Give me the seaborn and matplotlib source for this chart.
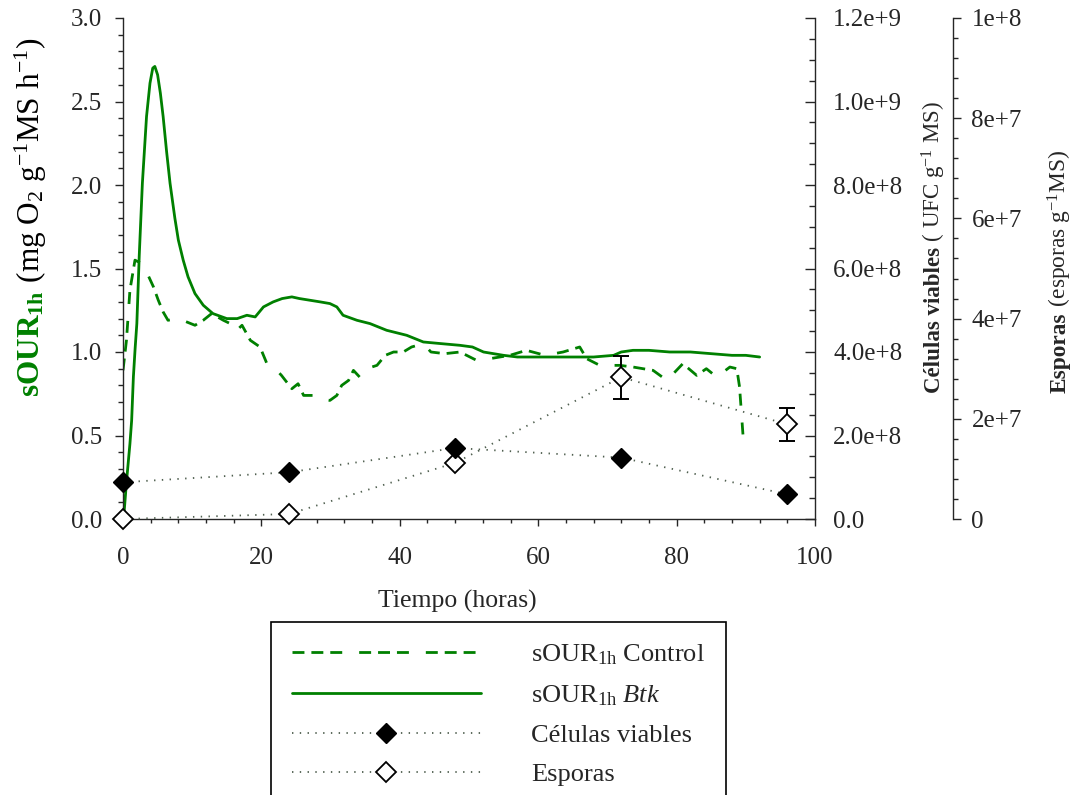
import numpy as np
import pandas as pd
import matplotlib
matplotlib.use("Agg")
import matplotlib.pyplot as plt
import seaborn as sns
from matplotlib.ticker import MultipleLocator
from matplotlib.lines import Line2D

# ---------------- data ----------------
btk_hours = [0.0, 0.14, 0.5, 1.0, 1.25, 1.5, 1.75, 2.0, 2.35, 2.8, 3.4, 3.9, 4.3, 4.6,
             5.0, 5.4, 5.8, 6.3, 6.8, 7.5, 8.0, 8.7, 9.4, 10.4, 11.6, 13.0, 15.0, 16.5,
             17.9, 19.1, 20.3, 21.7, 23.0, 24.4, 25.5, 27.0, 28.5, 29.9, 30.9, 31.8,
             33.8, 35.7, 38.1, 41.0, 43.4, 46.0, 48.7, 50.5, 52.1, 55.0, 57.0, 59.3,
             62.0, 65.0, 68.0, 70.9, 72.0, 73.7, 76.0, 79.0, 82.0, 85.0, 88.0, 90.0, 92.0]
btk_sour = [0.02, 0.03, 0.22, 0.45, 0.59, 0.85, 1.02, 1.17, 1.58, 2.01, 2.41, 2.61, 2.70, 2.71,
            2.66, 2.55, 2.41, 2.20, 2.01, 1.80, 1.67, 1.55, 1.45, 1.35, 1.28, 1.23, 1.20, 1.20,
            1.22, 1.21, 1.27, 1.30, 1.32, 1.33, 1.32, 1.31, 1.30, 1.29, 1.27, 1.22,
            1.19, 1.17, 1.13, 1.10, 1.06, 1.05, 1.04, 1.03, 1.00, 0.98, 0.97, 0.97,
            0.97, 0.97, 0.97, 0.98, 1.00, 1.01, 1.01, 1.00, 1.00, 0.99, 0.98, 0.98, 0.97]

ctrl_hours = [0.0, 0.5, 1.0, 1.73, 2.7, 3.4, 4.4, 5.1, 5.8, 6.5, 8.0, 9.2, 10.4, 11.6, 12.8,
              14.5, 15.5, 16.2, 17.2, 18.4, 19.8, 20.8, 22.0, 22.9, 24.4, 25.3, 26.1, 27.5,
              28.5, 29.9, 30.9, 31.6, 32.6, 33.3, 34.2, 35.2, 36.7, 37.9, 39.1, 40.5, 41.7,
              43.4, 44.5, 46.5, 48.7, 51.1, 53.0, 55.9, 58.3, 61.0, 63.6, 66.0, 67.0, 68.9,
              71.8, 73.7, 76.6, 78.6, 80.9, 82.9, 84.3, 85.8, 87.7, 88.7, 89.1, 89.6]
ctrl_sour = [0.89, 1.07, 1.37, 1.55, 1.53, 1.48, 1.39, 1.31, 1.24, 1.19, 1.20, 1.18, 1.16, 1.19, 1.23,
             1.19, 1.17, 1.12, 1.16, 1.07, 1.03, 0.93, 0.90, 0.86, 0.78, 0.81, 0.74, 0.74,
             0.72, 0.71, 0.74, 0.80, 0.83, 0.89, 0.85, 0.90, 0.92, 0.98, 1.00, 1.00, 1.03,
             1.05, 1.00, 0.99, 1.00, 0.95, 0.96, 0.98, 1.01, 0.98, 1.00, 1.03, 0.96, 0.92,
             0.92, 0.91, 0.89, 0.83, 0.93, 0.86, 0.90, 0.85, 0.91, 0.90, 0.79, 0.50]

sample_hours = [0, 24, 48, 72, 96]
celulas = [8.8e7, 1.12e8, 1.70e8, 1.47e8, 5.9e7]
esporas = [0.0, 1.0e6, 1.12e7, 2.83e7, 1.89e7]
esporas_err = [0.0, 0.0, 0.0, 4.3e6, 3.3e6]

x_ticks = [0, 20, 40, 60, 80, 100]
sour_ticks = [0.0, 0.5, 1.0, 1.5, 2.0, 2.5, 3.0]
sour_labels = ["0.0", "0.5", "1.0", "1.5", "2.0", "2.5", "3.0"]
cel_ticks = [0, 2e8, 4e8, 6e8, 8e8, 1.0e9, 1.2e9]
cel_labels = ["0.0", "2.0e+8", "4.0e+8", "6.0e+8", "8.0e+8", "1.0e+9", "1.2e+9"]
esp_ticks = [0, 2e7, 4e7, 6e7, 8e7, 1e8]
esp_labels = ["0", "2e+7", "4e+7", "6e+7", "8e+7", "1e+8"]

legend_labels = [r"sOUR$_{\mathrm{1h}}$ Control", r"sOUR$_{\mathrm{1h}}$ $\mathit{Btk}$",
                 "Células viables", "Esporas"]

# ---------------- style ----------------
sns.set_style("ticks")
plt.rcParams["font.family"] = ["Liberation Serif", "DejaVu Serif"]
plt.rcParams["mathtext.fontset"] = "custom"
plt.rcParams["mathtext.rm"] = "Liberation Serif"
plt.rcParams["mathtext.it"] = "Liberation Serif:italic"
plt.rcParams["mathtext.bf"] = "Liberation Serif:bold"
plt.rcParams["lines.scale_dashes"] = False
plt.rcParams["axes.linewidth"] = 1.0

FS = 18
GREEN = "#008000"
DOT = "#4f5f4f"
DASH = (0, (8.6, 5.0, 8.6, 5.0, 8.6, 12.2))
DOTTED = (0, (1.0, 4.6))

W, H = 1074, 795
fig = plt.figure(figsize=(W / 100, H / 100), dpi=100)
ax = fig.add_axes([123 / W, 1 - 519 / H, 692 / W, 501 / H])
ax_esp = ax.twinx()
ax_cel = ax.twinx()

# ---------------- curves ----------------
df_ctrl = pd.DataFrame({"h": ctrl_hours, "v": ctrl_sour})
df_btk = pd.DataFrame({"h": btk_hours, "v": btk_sour})
sns.lineplot(data=df_ctrl, x="h", y="v", ax=ax, color=GREEN, linewidth=2.0,
             linestyle=DASH, errorbar=None, sort=False)
sns.lineplot(data=df_btk, x="h", y="v", ax=ax, color=GREEN, linewidth=2.0,
             errorbar=None, sort=False)

# esporas (open diamonds)
mask = [e > 0 for e in esporas_err]
ax_esp.errorbar([h for h, m in zip(sample_hours, mask) if m],
                [v for v, m in zip(esporas, mask) if m],
                yerr=[e for e, m in zip(esporas_err, mask) if m],
                fmt="none", ecolor="black", elinewidth=1.4, capsize=6, capthick=1.4, zorder=2)
sns.lineplot(x=sample_hours, y=esporas, ax=ax_esp, color=DOT, linewidth=1.3,
             linestyle=DOTTED, marker="D", markersize=10, markerfacecolor="white",
             markeredgecolor="black", markeredgewidth=1.3, errorbar=None, clip_on=False, zorder=3)

# celulas viables (filled diamonds)
sns.lineplot(x=sample_hours, y=celulas, ax=ax_cel, color=DOT, linewidth=1.3,
             linestyle=DOTTED, marker="D", markersize=10, markerfacecolor="black",
             markeredgecolor="black", markeredgewidth=1.0, errorbar=None, clip_on=False, zorder=3)

# ---------------- axes ----------------
ax.set_xlim(0, 100)
ax.set_ylim(0, 3.0)
ax_cel.set_ylim(0, 1.2e9)
ax_esp.set_ylim(0, 1e8)

for a in (ax, ax_esp, ax_cel):
    a.set_xlabel("")
    a.set_ylabel("")

ax.set_xticks(x_ticks, [str(t) for t in x_ticks])
ax.xaxis.set_minor_locator(MultipleLocator(4))
ax.set_yticks(sour_ticks, sour_labels)
ax.yaxis.set_minor_locator(MultipleLocator(0.1))
ax_cel.set_yticks(cel_ticks, cel_labels)
ax_cel.yaxis.set_minor_locator(MultipleLocator(5e7))
ax_esp.set_yticks(esp_ticks, esp_labels)
ax_esp.yaxis.set_minor_locator(MultipleLocator(4e6))

ax.spines["top"].set_visible(False)
ax.spines["right"].set_visible(False)
for a in (ax_esp, ax_cel):
    a.spines["top"].set_visible(False)
    a.spines["left"].set_visible(False)
    a.spines["bottom"].set_visible(False)
ax_esp.spines["right"].set_position(("axes", 1.2))

ax.tick_params(axis="y", which="major", direction="out", length=6, width=1, labelsize=FS, pad=9)
ax.tick_params(axis="y", which="minor", direction="out", length=3.5, width=1)
ax.tick_params(axis="x", which="major", direction="out", length=5, width=1, labelsize=FS, pad=15)
ax.tick_params(axis="x", which="minor", direction="out", length=3, width=1)
ax_cel.tick_params(axis="y", which="major", direction="in", length=7, width=1, labelsize=FS, pad=13)
ax_cel.tick_params(axis="y", which="minor", direction="in", length=4, width=1)
ax_esp.tick_params(axis="y", which="major", direction="out", length=6, width=1, labelsize=FS, pad=7)
ax_esp.tick_params(axis="y", which="minor", direction="out", length=3.5, width=1)

# ---------------- labels ----------------
fig.text(457 / W, 1 - 608 / H, "Tiempo (horas)", ha="center", va="baseline", fontsize=18.5)

renderer = fig.canvas.get_renderer()


def rotated_label(x_px, y_px, size, pieces):
    y = y_px
    for s, kw in pieces:
        t = fig.text(x_px / W, 1 - y / H, s, rotation=90, rotation_mode="anchor",
                     ha="left", va="baseline", fontsize=size, **kw)
        bb = t.get_window_extent(renderer)
        y -= bb.height


rotated_label(40, 397, 22.5, [(r"$\mathbf{sOUR_{1h}}$", {"color": GREEN}),
                              (r" (mg O$_2$ g$^{-1}$MS h$^{-1}$)", {"color": "black"})])
rotated_label(940, 393, 16.5, [("Células viables", {"fontweight": "bold"}),
                               (r" ( UFC g$^{-1}$ MS)", {})])
rotated_label(1066, 393, 16.8, [("Esporas", {"fontweight": "bold"}),
                                (r" (esporas g$^{-1}$MS)", {})])

# ---------------- legend ----------------
handles = [
    Line2D([], [], color=GREEN, linewidth=2.0, linestyle=DASH),
    Line2D([], [], color=GREEN, linewidth=2.0),
    Line2D([], [], color=DOT, linewidth=1.3, linestyle=DOTTED, marker="D", markersize=10,
           markerfacecolor="black", markeredgecolor="black"),
    Line2D([], [], color=DOT, linewidth=1.3, linestyle=DOTTED, marker="D", markersize=10,
           markerfacecolor="white", markeredgecolor="black", markeredgewidth=1.3),
]
leg = fig.legend(handles, legend_labels, loc="upper left",
                 bbox_to_anchor=(271 / W, 1 - 621.5 / H), bbox_transform=fig.transFigure,
                 frameon=True, fancybox=False, edgecolor="black", framealpha=1,
                 fontsize=19, handlelength=7.15, handletextpad=1.9, borderpad=0.8,
                 labelspacing=0.6, numpoints=1, borderaxespad=0)
leg.get_frame().set_linewidth(1.2)

fig.savefig("out.png", dpi=100)
